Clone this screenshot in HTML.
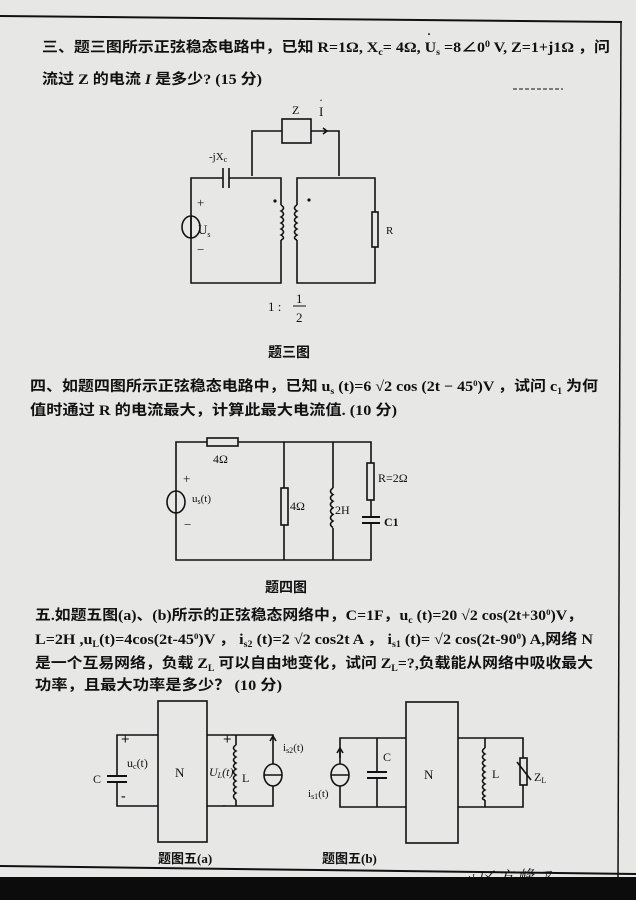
<!DOCTYPE html>
<html><head><meta charset="utf-8"><style>
html,body{margin:0;padding:0;}
body{width:636px;height:900px;background:#e6e6e4;overflow:hidden;}
svg{display:block;}
text{font-family:"Liberation Serif","Noto Serif CJK SC","Noto Sans CJK SC",serif;fill:#111;}
.c{font-family:"Liberation Serif","Noto Sans CJK SC",sans-serif;font-weight:bold;}
</style></head><body>
<svg width="636" height="900" viewBox="0 0 636 900" xmlns="http://www.w3.org/2000/svg">
<rect width="636" height="900" fill="#e7e7e5"/>
<g stroke="#111" fill="none" stroke-width="1.6">
<!-- page frame -->
<line x1="0" y1="16" x2="622" y2="22" stroke-width="2"/>
<line x1="621" y1="22" x2="618" y2="878" stroke-width="1.5"/>
<line x1="0" y1="866" x2="636" y2="874" stroke-width="2"/>
<line x1="513" y1="89" x2="563" y2="89" stroke-width="1" stroke-dasharray="4,2"/>

<!-- FIG 3 -->
<rect x="282" y="119" width="29" height="24"/>
<polyline points="252,176 252,131 282,131"/>
<polyline points="311,131 339,131 339,176"/>
<polyline points="323,128 327,131 323,134"/>
<polyline points="223,178 191,178 191,283 281,283 281,240"/>
<polyline points="229,178 281,178 281,205"/>
<line x1="223" y1="168" x2="223" y2="188"/><line x1="229" y1="168" x2="229" y2="188"/>
<polyline points="297,205 297,178 375,178 375,212"/>
<polyline points="375,247 375,283 297,283 297,240"/>
<rect x="372" y="212" width="6" height="35"/>
<path d="M281,205 q5,3 0,6 q5,3 0,6 q5,3 0,6 q5,3 0,6 q5,3 0,6 q5,3 0,5"/>
<path d="M297,205 q-5,3 0,6 q-5,3 0,6 q-5,3 0,6 q-5,3 0,6 q-5,3 0,6 q-5,3 0,5"/>
<ellipse cx="191" cy="227" rx="9" ry="11"/>
<line x1="191" y1="216" x2="191" y2="238"/>

<!-- FIG 4 -->
<polyline points="207,442 176,442 176,560 371,560 371,523"/>
<polyline points="238,442 371,442 371,463"/>
<rect x="207" y="438" width="31" height="8"/>
<line x1="371" y1="500" x2="371" y2="517"/>
<line x1="362" y1="517" x2="380" y2="517" stroke-width="2"/><line x1="362" y1="523" x2="380" y2="523" stroke-width="2"/>
<rect x="367" y="463" width="7" height="37"/>
<polyline points="284,442 284,488"/><polyline points="284,525 284,560"/>
<rect x="281" y="488" width="7" height="37"/>
<polyline points="333,442 333,488"/><polyline points="333,528 333,560"/>
<path d="M333,488 q-5,3.3 0,6.6 q-5,3.3 0,6.6 q-5,3.3 0,6.6 q-5,3.3 0,6.6 q-5,3.3 0,6.6 q-5,3.3 0,6.6"/>
<ellipse cx="176" cy="502" rx="9" ry="11" fill="#e7e7e5"/>
<line x1="176" y1="491" x2="176" y2="513"/>

<!-- FIG 5a -->
<rect x="158" y="701" width="49" height="141"/>
<polyline points="158,735 117,735 117,776"/>
<polyline points="117,782 117,806 158,806"/>
<line x1="107" y1="776" x2="127" y2="776" stroke-width="2"/><line x1="107" y1="782" x2="127" y2="782" stroke-width="2"/>
<polyline points="207,735 273,735 273,764"/>
<polyline points="207,806 273,806 273,786"/>
<line x1="236" y1="735" x2="236" y2="745"/><line x1="236" y1="800" x2="236" y2="806"/>
<path d="M236,745 q-5,3 0,6 q-5,3 0,6 q-5,3 0,6 q-5,3 0,6 q-5,3 0,6 q-5,3 0,6 q-5,3 0,6 q-5,3 0,6 q-5,3 0,7"/>
<ellipse cx="273" cy="775" rx="9" ry="11"/>
<line x1="264" y1="775" x2="282" y2="775"/>
<polyline points="270,741 273,736 276,741"/>

<!-- FIG 5b -->
<rect x="406" y="702" width="52" height="141"/>
<polyline points="406,738 340,738 340,764"/>
<polyline points="340,786 340,807 406,807"/>
<ellipse cx="340" cy="775" rx="9" ry="11"/>
<line x1="331" y1="775" x2="349" y2="775"/>
<line x1="340" y1="749" x2="340" y2="758"/><polyline points="337,753 340,748 343,753"/>
<polyline points="377,738 377,772"/><polyline points="377,778 377,807"/>
<line x1="367" y1="772" x2="387" y2="772" stroke-width="2"/><line x1="367" y1="778" x2="387" y2="778" stroke-width="2"/>
<polyline points="458,738 523,738 523,758"/>
<polyline points="458,807 523,807 523,785"/>
<rect x="520" y="758" width="7" height="27"/>
<line x1="517" y1="762" x2="531" y2="780"/>
<line x1="485" y1="738" x2="485" y2="748"/><line x1="485" y1="800" x2="485" y2="807"/>
<path d="M485,748 q-5,3 0,6 q-5,3 0,6 q-5,3 0,6 q-5,3 0,6 q-5,3 0,6 q-5,3 0,6 q-5,3 0,6 q-5,3 0,6 q-5,3 0,4"/>
</g>
<circle cx="275" cy="201" r="1.6" fill="#111"/><circle cx="309" cy="200" r="1.6" fill="#111"/>

<!-- texts Q3 -->
<text class="c" x="42" y="52" font-size="14.5" textLength="568" lengthAdjust="spacingAndGlyphs">三、题三图所示正弦稳态电路中，已知 R=1Ω, X<tspan font-size="9" dy="3">c</tspan><tspan dy="-3">= 4Ω, U</tspan><tspan font-size="9" dy="3">s</tspan><tspan dy="-3"> =8∠0</tspan><tspan font-size="9" dy="-5">0</tspan><tspan dy="5"> V, Z=1+j1Ω ，问</tspan></text>
<text class="c" x="427" y="38" font-size="12">·</text>
<text class="c" x="42" y="84" font-size="14.5" textLength="220" lengthAdjust="spacingAndGlyphs">流过 Z 的电流 <tspan font-style="italic">I</tspan> 是多少? (15 分)</text>
<text x="292" y="114" font-size="12">Z</text>
<text x="319" y="116" font-size="13">I</text><text x="319" y="104" font-size="12">·</text>
<text x="209" y="160" font-size="11">-jX<tspan font-size="8" dy="2">c</tspan></text>
<text x="197" y="207" font-size="13">+</text>
<text x="198" y="234" font-size="13">U<tspan font-size="8" dy="3">s</tspan></text>
<text x="197" y="254" font-size="13">−</text>
<text x="386" y="234" font-size="11">R</text>
<text x="268" y="311" font-size="13">1 :</text>
<text x="296" y="303" font-size="13">1</text><line x1="293" y1="306" x2="306" y2="306" stroke="#111"/>
<text x="296" y="322" font-size="13">2</text>
<text class="c" x="268" y="357" font-size="14">题三图</text>

<!-- Q4 -->
<text class="c" x="30" y="391" font-size="14.5" textLength="568" lengthAdjust="spacingAndGlyphs">四、如题四图所示正弦稳态电路中，已知 u<tspan font-size="9" dy="3">s</tspan><tspan dy="-3"> (t)=6 √2 cos (2t − 45</tspan><tspan font-size="8" dy="-5">0</tspan><tspan dy="5">)V ，试问 c</tspan><tspan font-size="9" dy="3">1</tspan><tspan dy="-3"> 为何</tspan></text>
<text class="c" x="30" y="415" font-size="14.5" textLength="367" lengthAdjust="spacingAndGlyphs">值时通过 R 的电流最大，计算此最大电流值. (10 分)</text>
<text x="213" y="463" font-size="12">4Ω</text>
<text x="183" y="483" font-size="13">+</text>
<text x="192" y="502" font-size="11">u<tspan font-size="8" dy="2">s</tspan><tspan dy="-2">(t)</tspan></text>
<text x="184" y="529" font-size="13">−</text>
<text x="290" y="510" font-size="12">4Ω</text>
<text x="335" y="514" font-size="12">2H</text>
<text x="378" y="482" font-size="12">R=2Ω</text>
<text x="384" y="526" font-size="12" font-family="Liberation Mono" font-weight="bold">C1</text>
<text class="c" x="265" y="592" font-size="14">题四图</text>

<!-- Q5 -->
<text class="c" x="35" y="620" font-size="14.5" textLength="548" lengthAdjust="spacingAndGlyphs">五.如题五图(a)、(b)所示的正弦稳态网络中，C=1F，u<tspan font-size="9" dy="3">c</tspan><tspan dy="-3"> (t)=20 √2 cos(2t+30</tspan><tspan font-size="8" dy="-5">0</tspan><tspan dy="5">)V，</tspan></text>
<text class="c" x="35" y="644" font-size="14.5" textLength="558" lengthAdjust="spacingAndGlyphs">L=2H ,u<tspan font-size="9" dy="3">L</tspan><tspan dy="-3">(t)=4cos(2t-45</tspan><tspan font-size="8" dy="-5">0</tspan><tspan dy="5">)V ， i</tspan><tspan font-size="9" dy="3">s2</tspan><tspan dy="-3"> (t)=2 √2 cos2t A ，  i</tspan><tspan font-size="9" dy="3">s1</tspan><tspan dy="-3"> (t)= √2 cos(2t-90</tspan><tspan font-size="8" dy="-5">0</tspan><tspan dy="5">) A,网络 N</tspan></text>
<text class="c" x="35" y="668" font-size="14.5" textLength="558" lengthAdjust="spacingAndGlyphs">是一个互易网络，负载 Z<tspan font-size="9" dy="3">L</tspan><tspan dy="-3"> 可以自由地变化，试问 Z</tspan><tspan font-size="9" dy="3">L</tspan><tspan dy="-3">=?,负载能从网络中吸收最大</tspan></text>
<text class="c" x="35" y="690" font-size="14.5" textLength="247" lengthAdjust="spacingAndGlyphs">功率，且最大功率是多少？ (10 分)</text>

<text x="121" y="744" font-size="15" font-weight="bold">+</text>
<text x="127" y="767" font-size="12">u<tspan font-size="8" dy="2">c</tspan><tspan dy="-2">(t)</tspan></text>
<text x="93" y="783" font-size="12">C</text>
<text x="121" y="800" font-size="14" font-weight="bold">-</text>
<text x="175" y="777" font-size="13">N</text>
<text x="223" y="744" font-size="15" font-weight="bold">+</text>
<text x="209" y="776" font-size="12" font-style="italic">U<tspan font-size="8" dy="2">L</tspan><tspan dy="-2">(t)</tspan></text>
<text x="242" y="782" font-size="12">L</text>
<text x="222" y="809" font-size="14" font-weight="bold">-</text>
<text x="283" y="751" font-size="11">i<tspan font-size="8" dy="2">s2</tspan><tspan dy="-2">(t)</tspan></text>

<text x="308" y="797" font-size="11">i<tspan font-size="8" dy="2">s1</tspan><tspan dy="-2">(t)</tspan></text>
<text x="383" y="761" font-size="12">C</text>
<text x="424" y="779" font-size="13">N</text>
<text x="492" y="778" font-size="12">L</text>
<text x="534" y="781" font-size="12">Z<tspan font-size="8" dy="2">L</tspan></text>
<text class="c" x="158" y="863" font-size="13">题图五(a)</text>
<text class="c" x="322" y="863" font-size="13">题图五(b)</text>
<text x="462" y="885" font-size="16" font-style="italic" transform="rotate(-3 462 885)">ㄐ区 ⽅ 峰 ㄗ</text>
</svg>
<div style="position:absolute;left:0;top:877px;width:636px;height:23px;background:#0c0c0c;"></div>
</body></html>
